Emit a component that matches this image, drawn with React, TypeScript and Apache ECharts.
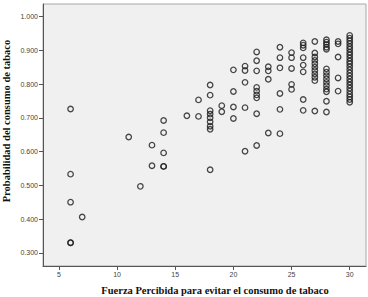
import React, { useEffect, useRef } from "react";
import * as echarts from "echarts";

const xTicks = [5, 10, 15, 20, 25, 30];
const yTicks = [0.3, 0.4, 0.5, 0.6, 0.7, 0.8, 0.9, 1.0];

const fuerza = [
  6, 6, 6, 6, 6,
  7,
  11,
  12,
  13, 13,
  14, 14, 14, 14, 14,
  16,
  17, 17,
  18, 18, 18, 18, 18, 18, 18, 18, 18,
  19, 19,
  20, 20, 20, 20,
  21, 21, 21, 21, 21,
  22, 22, 22, 22, 22, 22, 22, 22, 22,
  23, 23, 23, 23,
  24, 24, 24, 24, 24, 24,
  25, 25, 25, 25, 25,
  26, 26, 26, 26, 26, 26, 26, 26,
  27, 27, 27, 27, 27, 27, 27, 27, 27, 27, 27,
  28, 28, 28, 28, 28, 28, 28, 28, 28, 28, 28, 28, 28, 28, 28,
  29, 29, 29, 29, 29,
  30, 30, 30, 30, 30, 30, 30, 30, 30, 30, 30, 30, 30, 30, 30, 30, 30, 30, 30, 30, 30, 30, 30, 30,
];

const probabilidad = [
  0.726, 0.533, 0.45, 0.33, 0.33,
  0.406,
  0.643,
  0.497,
  0.619, 0.558,
  0.692, 0.656, 0.596, 0.556, 0.556,
  0.706,
  0.753, 0.704,
  0.797, 0.767, 0.721, 0.711, 0.7, 0.688, 0.675, 0.666, 0.546,
  0.736, 0.718,
  0.842, 0.778, 0.732, 0.698,
  0.853, 0.84, 0.805, 0.73, 0.601,
  0.895, 0.869, 0.839, 0.79, 0.779, 0.768, 0.759, 0.712, 0.618,
  0.851, 0.839, 0.814, 0.655,
  0.909, 0.878, 0.848, 0.772, 0.725, 0.653,
  0.893, 0.878, 0.846, 0.799, 0.784,
  0.922, 0.915, 0.907, 0.878, 0.856, 0.836, 0.754, 0.722,
  0.926, 0.892, 0.88, 0.87, 0.86, 0.85, 0.84, 0.83, 0.82, 0.81, 0.72,
  0.931, 0.924, 0.917, 0.909, 0.903, 0.845, 0.835, 0.825, 0.815, 0.805, 0.795, 0.785, 0.777, 0.749, 0.717,
  0.926, 0.919, 0.88, 0.818, 0.779,
  0.944, 0.936, 0.928, 0.92, 0.911, 0.903, 0.894, 0.886, 0.877, 0.868, 0.86, 0.851,
  0.842, 0.833, 0.824, 0.815, 0.806, 0.797, 0.788, 0.779, 0.77, 0.762, 0.754, 0.746,
];

const xTitle = "Fuerza Percibida para evitar el consumo de tabaco";
const yTitle = "Probabilidad del consumo de tabaco";

export default function App() {
  const ref = useRef<HTMLDivElement>(null);
  useEffect(() => {
    if (!ref.current) return;
    const chart = echarts.init(ref.current, null, { renderer: "svg" });
    const data = fuerza.map((x, i) => [x, probabilidad[i]]);
    chart.setOption({
      animation: false,
      backgroundColor: "#ffffff",
      grid: {
        left: 43,
        right: 2,
        top: 4,
        bottom: 31,
        show: true,
        backgroundColor: "#f0f0f0",
        borderColor: "#a8a8a8",
        borderWidth: 1,
      },
      xAxis: {
        type: "value",
        min: 3.63,
        max: 31.4,
        splitLine: { show: false },
        axisLine: { show: true, onZero: false, lineStyle: { color: "#555", width: 1 } },
        axisTick: { show: true, length: 4, customValues: xTicks, lineStyle: { color: "#555" } },
        axisLabel: {
          customValues: xTicks,
          fontSize: 7,
          color: "#444",
          fontFamily: "Liberation Sans",
          margin: 5,
        },
      },
      yAxis: {
        type: "value",
        min: 0.261,
        max: 1.037,
        splitLine: { show: false },
        axisLine: { show: true, onZero: false, lineStyle: { color: "#555", width: 1 } },
        axisTick: { show: true, length: 4, customValues: yTicks, lineStyle: { color: "#555" } },
        axisLabel: {
          customValues: yTicks,
          fontSize: 7,
          color: "#444",
          fontFamily: "Liberation Sans",
          margin: 5,
          formatter: (v: number) => v.toFixed(3),
        },
      },
      graphic: [
        {
          type: "text",
          x: 215,
          y: 290,
          style: {
            text: xTitle,
            font: "bold 10.5px 'Liberation Serif'",
            fill: "#111",
            textAlign: "center",
            textVerticalAlign: "middle",
          },
        },
        {
          type: "text",
          x: 6,
          y: 121,
          rotation: Math.PI / 2,
          style: {
            text: yTitle,
            font: "bold 10.5px 'Liberation Serif'",
            fill: "#111",
            textAlign: "center",
            textVerticalAlign: "middle",
          },
        },
      ],
      series: [
        {
          type: "scatter",
          data,
          symbol: "circle",
          symbolSize: 5.5,
          itemStyle: {
            color: "rgba(0,0,0,0)",
            borderColor: "#1a1a1a",
            borderWidth: 1.3,
          },
        },
      ],
    });
    return () => chart.dispose();
  }, []);
  return <div ref={ref} style={{ width: 368, height: 297, position: "absolute", left: 0, top: 0 }} />;
}
